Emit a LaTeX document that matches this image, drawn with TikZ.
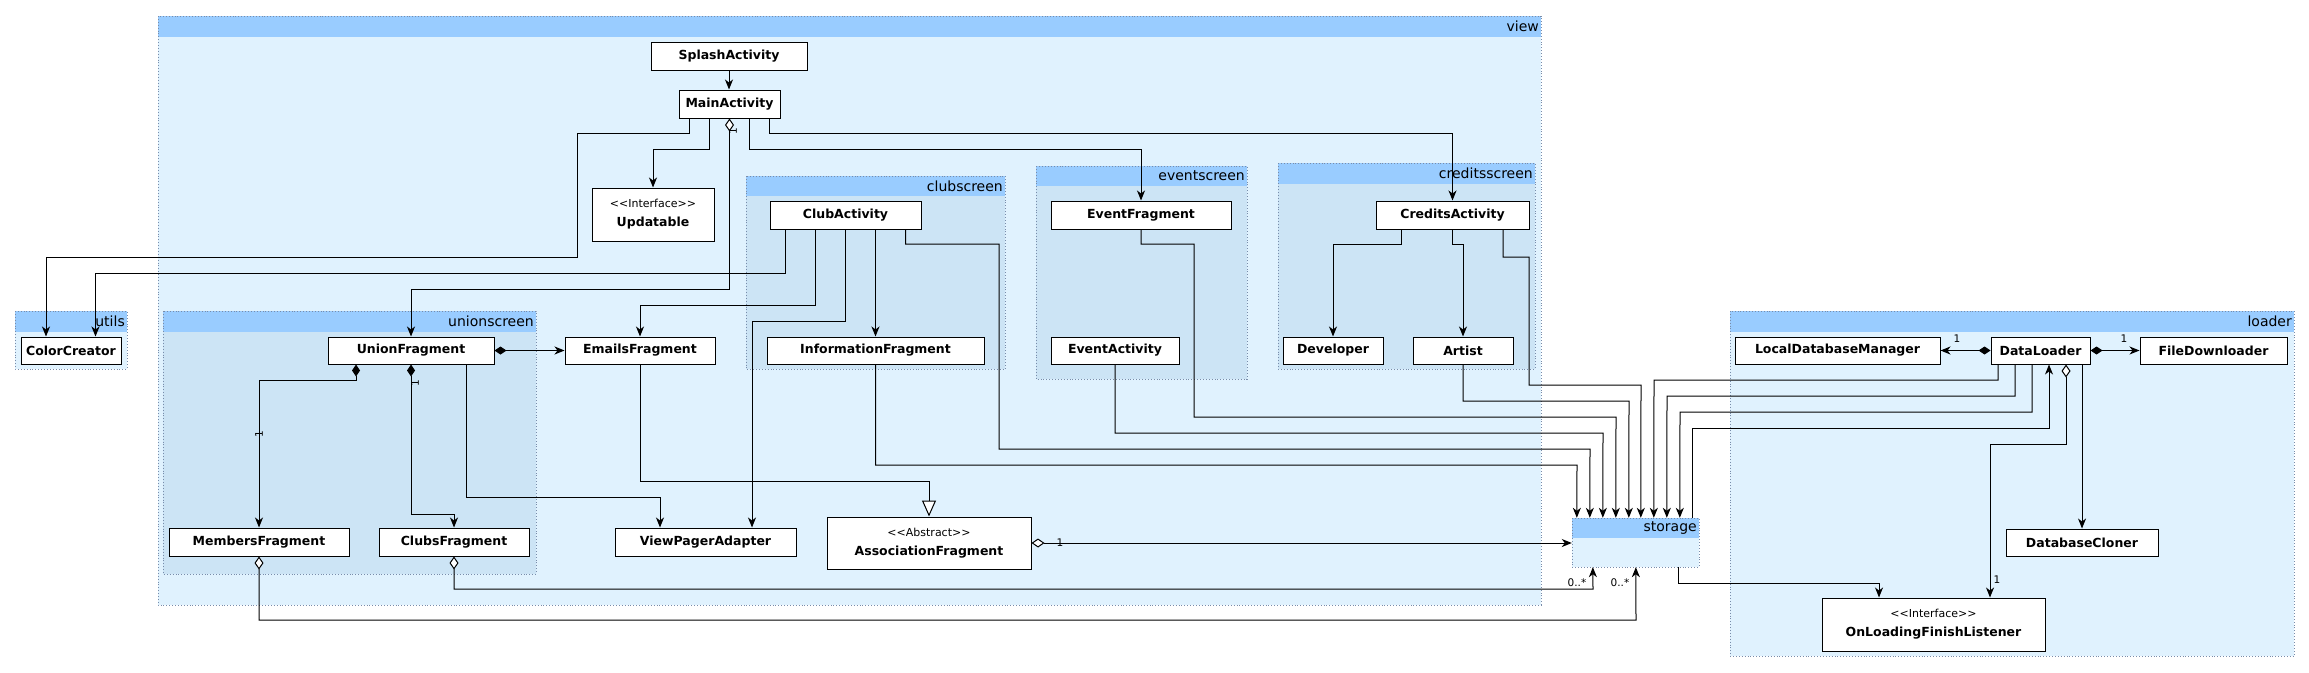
\documentclass[tikz,border=0pt]{standalone}
\usepackage{fontspec}
\setmainfont{DejaVu Sans}
\usetikzlibrary{arrows.meta,calc}
\definecolor{pkgfill}{RGB}{224,242,254}
\definecolor{subfill}{RGB}{204,228,245}
\definecolor{hdrblue}{RGB}{153,204,255}
\definecolor{pkgline}{RGB}{120,140,170}
\newcommand{\pkgdraw}[8]{%
  \fill[#6] (#1,#2) rectangle (#3,#4);
  \fill[hdrblue] (#1,#2) rectangle (#3,#5);
  \draw[pkgline, dotted, line width=0.9pt] (#1,#2) rectangle (#3,#4);
  \node[pkglabel, anchor=east] (#8) at ({#3-2},{(#2+#5)/2}) {#7};
}
\tikzset{
  cls/.style={draw, line width=1pt, fill=white, inner sep=0pt, minimum height=28,
    font=\fontsize{12.5}{14}\selectfont\bfseries},
  pkglabel/.style={inner sep=0pt, font=\fontsize{14}{16}\selectfont},
  mult/.style={inner sep=0pt, font=\fontsize{10.5}{11}\selectfont},
  dep/.style={line width=1pt, -{Stealth[length=10pt,width=8pt,inset=3pt]}},
  agg/.style={line width=1pt, {Diamond[length=13pt,width=9pt,fill=white]}-{Stealth[length=10pt,width=8pt,inset=3pt]}},
  comp/.style={line width=1pt, {Diamond[length=12pt,width=8pt]}-{Stealth[length=10pt,width=8pt,inset=3pt]}},
  inh/.style={line width=1pt, -{Triangle[open,length=16pt,width=14pt,fill=white]}},
}
\newcommand{\stt}[1]{{\fontsize{11}{12}\selectfont\mdseries #1}}
\begin{document}
\begin{tikzpicture}[x=1pt,y=-1pt]
\useasboundingbox (0,0) rectangle (2309,672);
% packages
\pkgdraw{158}{16}{1541}{605}{37}{pkgfill}{view}{lview}
\pkgdraw{15}{311}{127}{369}{332}{pkgfill}{utils}{lutils}
\pkgdraw{163}{311}{536}{574}{332}{subfill}{unionscreen}{lunion}
\pkgdraw{746}{176}{1005}{369}{196}{subfill}{clubscreen}{lclub}
\pkgdraw{1036}{166}{1247}{379}{186}{subfill}{eventscreen}{levent}
\pkgdraw{1278}{163}{1535}{369}{184}{subfill}{creditsscreen}{lcredits}
\pkgdraw{1730}{311}{2294}{656}{332}{pkgfill}{loader}{lloader}
\pkgdraw{1572}{518}{1699}{567}{538}{pkgfill}{storage}{lstorage}
\node[minimum width=127, minimum height=49, inner sep=0pt] (storage) at (1635.5,542.5) {};
% classes
\node[cls, minimum width=156] (splash) at (729,56) {SplashActivity};
\node[cls, minimum width=101] (main) at (729.5,104) {MainActivity};
\node[cls, minimum width=122, minimum height=53, align=center] (updatable) at (653,214.5) {\stt{<{}<Interface>{}>}\\[5pt]Updatable};
\node[cls, minimum width=151] (club) at (845.5,215) {ClubActivity};
\node[cls, minimum width=180] (eventfrag) at (1141,215) {EventFragment};
\node[cls, minimum width=153] (credits) at (1452.5,215) {CreditsActivity};
\node[cls, minimum width=100, minimum height=27] (color) at (71,350.5) {ColorCreator};
\node[cls, minimum width=166, minimum height=27] (union) at (411,350.5) {UnionFragment};
\node[cls, minimum width=150, minimum height=27] (emails) at (640,350.5) {EmailsFragment};
\node[cls, minimum width=217, minimum height=27] (info) at (875.5,350.5) {InformationFragment};
\node[cls, minimum width=128, minimum height=27] (eventact) at (1115,350.5) {EventActivity};
\node[cls, minimum width=100, minimum height=27] (developer) at (1333,350.5) {Developer};
\node[cls, minimum width=100, minimum height=27] (artist) at (1463,350.5) {Artist};
\node[cls, minimum width=205, minimum height=27] (ldm) at (1837.5,350.5) {LocalDatabaseManager};
\node[cls, minimum width=99, minimum height=27] (dataloader) at (2040.5,350.5) {DataLoader};
\node[cls, minimum width=147, minimum height=27] (filedl) at (2213.5,350.5) {FileDownloader};
\node[cls, minimum width=180] (members) at (259,542) {MembersFragment};
\node[cls, minimum width=150] (clubs) at (454,542) {ClubsFragment};
\node[cls, minimum width=181] (vpa) at (705.5,542) {ViewPagerAdapter};
\node[cls, minimum width=204, minimum height=52, align=center] (assoc) at (929,543) {\stt{<{}<Abstract>{}>}\\[5pt]AssociationFragment};
\node[cls, minimum width=152, minimum height=27] (dbcloner) at (2082,542.5) {DatabaseCloner};
\node[cls, minimum width=223, minimum height=53, align=center] (olfl) at (1933.5,624.5) {\stt{<{}<Interface>{}>}\\[5pt]OnLoadingFinishListener};
% connectors
\draw[dep] (splash.south) -- (splash.south |- main.north);
\draw[dep] ($(main.south)+(-40.5,0)$) |- (577,133) |- (46,257) -- ($(color.north)+(-25,0)$);
\draw[dep] ($(main.south)+(-20.5,0)$) |- (653,149) -- (updatable.north);
\draw[agg] (main.south) |- (411,289) -- (union.north);
\draw[dep] ($(main.south)+(19.5,0)$) |- (1141,149) -- (eventfrag.north);
\draw[dep] ($(main.south)+(39.5,0)$) |- (1452.5,133) -- (credits.north);
\draw[dep] ($(club.south)+(-60,0)$) |- (95.5,273) -- ($(color.north)+(24.5,0)$);
\draw[dep] ($(club.south)+(-30,0)$) |- (640,305) -- (emails.north);
\draw[dep] (club.south) |- (752,321) -- ($(vpa.north)+(46.5,0)$);
\draw[dep] ($(club.south)+(30,0)$) -- (info.north);
\draw[dep] ($(club.south)+(60,0)$) |- (999,244) |- (1590,449) -- ($(storage.north west)+(18,0)$);
\draw[comp] (union.east) -- (emails.west);
\draw[comp] ($(union.south)+(-55,0)$) |- (259,380) -- (members.north);
\draw[comp] (union.south) |- (454,514) -- (clubs.north);
\draw[dep] ($(union.south)+(55,0)$) |- (660,497) -- ($(vpa.north)+(-45.5,0)$);
\draw[inh] (emails.south) |- (929,481) -- (assoc.north);
\draw[agg] (assoc.east) -- (assoc.east -| storage.west);
\draw[dep] (info.south) |- (1577,465) -- ($(storage.north west)+(5,0)$);
\draw[dep] (eventact.south) |- (1603,433) -- ($(storage.north west)+(31,0)$);
\draw[dep] (eventfrag.south) |- (1194,244) |- (1616,417) -- ($(storage.north west)+(44,0)$);
\draw[dep] (artist.south) |- (1629,401) -- ($(storage.north west)+(57,0)$);
\draw[dep] ($(credits.south)+(50.5,0)$) |- (1529,257) |- (1641,385) -- ($(storage.north west)+(69,0)$);
\draw[dep] ($(credits.south)+(-51.5,0)$) |- (1333,244) -- (developer.north);
\draw[dep] (credits.south) |- (1463,244) -- (artist.north);
\draw[dep] ($(dataloader.south)+(-42.5,0)$) |- (1654,380) -- ($(storage.north west)+(82,0)$);
\draw[dep] ($(dataloader.south)+(-25.5,0)$) |- (1667,396) -- ($(storage.north west)+(95,0)$);
\draw[dep] ($(dataloader.south)+(-8.5,0)$) |- (1680,412) -- ($(storage.north west)+(108,0)$);
\draw[dep] ($(storage.north west)+(121,0)$) |- (2049,428) -- ($(dataloader.south)+(8.5,0)$);
\draw[agg] ($(dataloader.south)+(25.5,0)$) |- (1990,444) -- ($(olfl.north)+(56.5,0)$);
\draw[dep] ($(dataloader.south)+(41.5,0)$) -- (dbcloner.north);
\draw[comp] (dataloader.west) -- (ldm.east);
\draw[comp] (dataloader.east) -- (filedl.west);
\draw[dep] ($(storage.south west)+(107,0)$) |- (1879,583) -- ($(olfl.north)+(-54.5,0)$);
\draw[agg] (clubs.south) |- (1593,589) -- ($(storage.south west)+(21,0)$);
\draw[agg] (members.south) |- (1636,620) -- ($(storage.south west)+(64,0)$);
% multiplicities
\node[mult, rotate=90] (m1) at (733,131) {1};
\node[mult, rotate=90] (m2) at (415,383) {1};
\node[mult, rotate=90] (m3) at (259,434) {1};
\node[mult] (m4) at (1060,543) {1};
\node[mult] (m5) at (1957,339) {1};
\node[mult] (m6) at (2124,339) {1};
\node[mult] (m7) at (1997,580) {1};
\node[mult] (m8) at (1577,583) {0..*};
\node[mult] (m9) at (1620,583) {0..*};
\end{tikzpicture}
\end{document}
